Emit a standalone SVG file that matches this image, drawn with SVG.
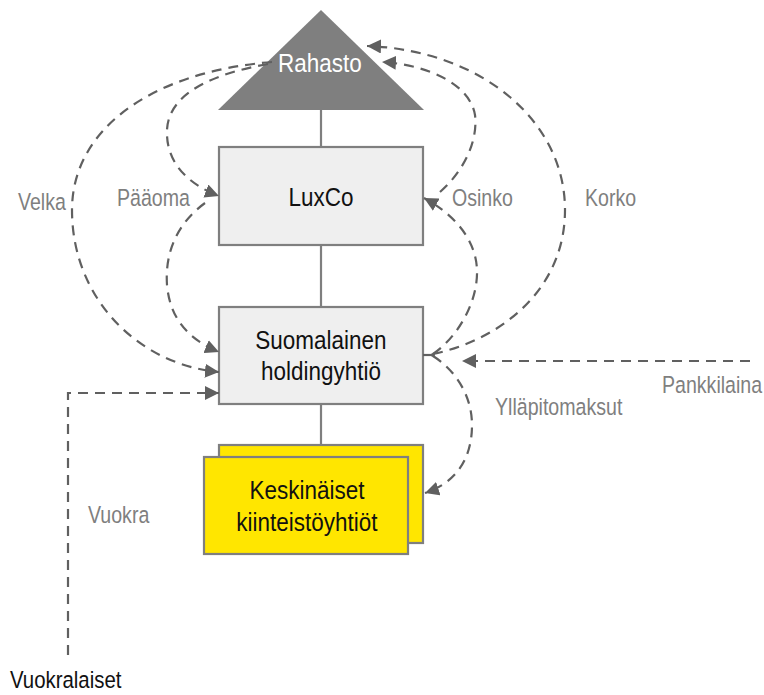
<svg xmlns="http://www.w3.org/2000/svg" width="764" height="695" viewBox="0 0 764 695">
<style>
  text { font-family: "Liberation Sans", Arial, sans-serif; }
  .node { font-size: 22.5px; fill: #111; text-anchor: middle; }
  .lbl { font-size: 19.6px; fill: #7f7f7f; }
  .box { fill: #efefef; stroke: #7f7f7f; stroke-width: 2.2; }
  .ybox { fill: #ffe600; stroke: #7f7f7f; stroke-width: 2.2; }
  .solid { stroke: #7f7f7f; stroke-width: 2.2; fill: none; }
  .dash { stroke: #606060; stroke-width: 2.2; fill: none; stroke-dasharray: 10 7; }
</style>
<defs>
  <marker id="ah" markerUnits="userSpaceOnUse" markerWidth="16" markerHeight="14" refX="14" refY="7" orient="auto">
    <path d="M0,0 L14,7 L0,14 Z" fill="#606060"/>
  </marker>
</defs>
<rect width="764" height="695" fill="#fff"/>

<g id="structure-lines">
  <line class="solid" x1="321" y1="110" x2="321" y2="147"/>
  <line class="solid" x1="321" y1="245" x2="321" y2="307"/>
  <line class="solid" x1="321" y1="404" x2="321" y2="445"/>
</g>

<g id="rahasto">
  <polygon points="321,10 424,110 218,110" fill="#7f7f7f"/>
  <text class="node" transform="translate(320 72) scale(1 1.12)" style="fill:#fff">Rahasto</text>
</g>

<g id="luxco">
  <rect class="box" x="219" y="147" width="204" height="98"/>
  <text class="node" transform="translate(321 206) scale(1 1.12)">LuxCo</text>
</g>

<g id="holding">
  <rect class="box" x="219" y="307" width="204" height="97"/>
  <text class="node" transform="translate(321 349) scale(1 1.12)">Suomalainen</text>
  <text class="node" transform="translate(321 380) scale(1 1.12)">holdingyhtiö</text>
  <line x1="423" y1="355" x2="432" y2="355" stroke="#606060" stroke-width="2.2"/>
  <circle cx="433" cy="355" r="2" fill="#606060"/>
</g>

<g id="kiinteisto">
  <rect class="ybox" x="219" y="445" width="204" height="98"/>
  <rect class="ybox" x="204" y="457" width="204" height="97"/>
  <text class="node" transform="translate(307 499) scale(1 1.12)">Keskinäiset</text>
  <text class="node" transform="translate(307 531) scale(1 1.12)">kiinteistöyhtiöt</text>
</g>

<g id="vuokralaiset">
  <text transform="translate(10 688) scale(1 1.15)" style="font-size:20.4px;fill:#111">Vuokralaiset</text>
</g>

<g id="connectors">
  <path class="dash" marker-end="url(#ah)" d="M272 62 C150 72, 72 130, 72 210 C72 300, 140 365, 219 372"/>
  <path class="dash" marker-end="url(#ah)" d="M268 64 C200 76, 165 100, 167 135 C168 165, 190 185, 219 196"/>
  <path class="dash" marker-end="url(#ah)" d="M205 203 C175 225, 165 255, 167 285 C170 320, 190 340, 219 352"/>
  <path class="dash" marker-end="url(#ah)" d="M433 354 C460 335, 478 300, 477 270 C476 240, 455 215, 424 198"/>
  <path class="dash" marker-end="url(#ah)" d="M440 192 C465 170, 478 140, 475 115 C470 85, 430 65, 382 62"/>
  <path class="dash" marker-end="url(#ah)" d="M433 354 C500 340, 565 290, 565 210 C565 120, 480 50, 367 46"/>
  <path class="dash" marker-end="url(#ah)" d="M750 361 L462 361"/>
  <path class="dash" marker-end="url(#ah)" d="M433 356 C455 370, 472 395, 472 425 C472 460, 455 483, 425 493"/>
  <path class="dash" marker-end="url(#ah)" d="M68 655 L68 393 L219 393"/>
</g>

<g id="labels">
  <text class="lbl" transform="translate(18 210) scale(1 1.2)">Velka</text>
  <text class="lbl" transform="translate(117 206) scale(1 1.2)">Pääoma</text>
  <text class="lbl" transform="translate(452 206) scale(1 1.2)">Osinko</text>
  <text class="lbl" transform="translate(585 206) scale(1 1.2)">Korko</text>
  <text class="lbl" transform="translate(662 393) scale(1 1.2)">Pankkilaina</text>
  <text class="lbl" transform="translate(495 415) scale(1 1.2)">Ylläpitomaksut</text>
  <text class="lbl" transform="translate(88 523) scale(1 1.2)">Vuokra</text>
</g>
</svg>
